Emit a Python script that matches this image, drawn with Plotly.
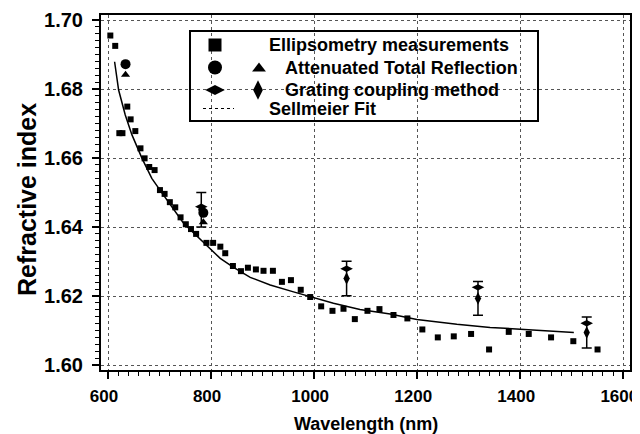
import plotly.graph_objects as go

# ---- data ----
ell_x = [604.5, 614, 622, 628, 637.4, 643.9, 653, 663, 671, 680, 690.4, 700.8, 709.8, 720,
         730.5, 740.8, 751, 761, 771, 791, 804, 818, 827.5, 842.4, 858, 871.5, 887, 901.8,
         920, 937.5, 955, 974, 992.4, 1013.7, 1035.6, 1057, 1079, 1103.5, 1126.8, 1154,
         1181, 1210, 1240, 1271, 1304.6, 1339.5, 1377.7, 1416.5, 1459.8, 1503, 1550]
ell_y = [1.6955, 1.6925, 1.6672, 1.6672, 1.6749, 1.6712, 1.6678, 1.6628, 1.6599, 1.6574,
         1.6565, 1.6507, 1.6496, 1.6472, 1.6457, 1.6428, 1.6408, 1.6394, 1.6380, 1.6354,
         1.6354, 1.6343, 1.6324, 1.6287, 1.6272, 1.6282, 1.6277, 1.6273, 1.6273, 1.6241,
         1.6246, 1.6218, 1.6197, 1.6170, 1.6157, 1.6163, 1.6133, 1.6157, 1.6162, 1.6145,
         1.6135, 1.6103, 1.6080, 1.6083, 1.6090, 1.6045, 1.6096, 1.6090, 1.6080, 1.6069,
         1.6045]

atr_circle_x = [634, 785]
atr_circle_y = [1.6872, 1.6441]
atr_tri_x = [634, 785]
atr_tri_y = [1.6841, 1.6414]

gc_wide_x = [781, 1063, 1318, 1529]
gc_wide_y = [1.6459, 1.6279, 1.6225, 1.6121]
gc_tall_x = [781, 1063, 1318, 1529]
gc_tall_y = [1.6450, 1.6251, 1.6193, 1.6094]
gc_err = [0.005, 0.005, 0.0049, 0.0045]

fit_x = [612.8, 620.6, 633.5, 646.5, 666, 685, 705, 730.5, 746.6, 817.8, 843.6, 876,
         914.8, 960, 992.4, 1037.5, 1089, 1147.5, 1199.3, 1277, 1341.5, 1398.3, 1451.5, 1504]
fit_y = [1.6879, 1.6797, 1.67246, 1.6667, 1.6599, 1.6541, 1.6498, 1.6444, 1.6411, 1.6309,
         1.6283, 1.6254, 1.6232, 1.6212, 1.6198, 1.6179, 1.6161, 1.6148, 1.6132, 1.6118,
         1.6109, 1.6103, 1.6099, 1.6094]

legend_labels = ["Ellipsometry measurements", "Attenuated Total Reflection",
                 "Grating coupling method", "Sellmeier Fit"]

x_title = "Wavelength (nm)"
y_title = "Refractive index"

# ---- figure ----
FONT = "Liberation Sans, Arial, Helvetica, sans-serif"
OFF = 8                      # page body margin of the browser
W, H = 640, 434 - OFF
L, R, T, B = 101 - OFF, 10 + OFF, 15 - OFF, 64
pw, ph = W - L - R, H - T - B
XR = [586.4, 1613]
YR = [1.59855, 1.70145]


def px2paper(px, py):
    # screen pixel -> paper fraction
    return (px - OFF - L) / pw, (H - B - (py - OFF)) / ph


def px2data(px, py):
    fx, fy = px2paper(px, py)
    return XR[0] + fx * (XR[1] - XR[0]), YR[0] + fy * (YR[1] - YR[0])


fig = go.Figure()

fig.add_trace(go.Scatter(x=fit_x, y=fit_y, mode="lines",
                         line=dict(color="black", width=1.5), showlegend=False))
fig.add_trace(go.Scatter(x=ell_x, y=ell_y, mode="markers",
                         marker=dict(symbol="square", size=6, color="black"), showlegend=False))
fig.add_trace(go.Scatter(x=gc_tall_x, y=gc_tall_y, mode="markers",
                         marker=dict(symbol="diamond-tall", size=9, color="black"),
                         error_y=dict(type="data", array=gc_err, visible=True,
                                      color="black", thickness=1.5, width=5),
                         showlegend=False))
fig.add_trace(go.Scatter(x=gc_wide_x, y=gc_wide_y, mode="markers",
                         marker=dict(symbol="diamond-wide", size=9, color="black"),
                         showlegend=False))
fig.add_trace(go.Scatter(x=atr_circle_x, y=atr_circle_y, mode="markers",
                         marker=dict(symbol="circle", size=10, color="black"), showlegend=False))
fig.add_trace(go.Scatter(x=atr_tri_x, y=atr_tri_y, mode="markers",
                         marker=dict(symbol="triangle-up", size=8, color="black"),
                         showlegend=False))

# ---- hand-built legend ----
box = [190, 31, 538, 121]
x0, y0 = px2paper(box[0], box[3])
x1, y1 = px2paper(box[2], box[1])
fig.add_shape(type="rect", xref="paper", yref="paper", x0=x0, y0=y0, x1=x1, y1=y1,
              line=dict(color="black", width=2), fillcolor="white", layer="between")

leg_sym = [("square", 215, 45, 13), ("circle", 215, 67.5, 14), ("triangle-up", 259, 68.5, 12),
           ("diamond-wide", 215, 90, 14), ("diamond-tall", 258, 90, 14)]
for sym, sx, sy, ss in leg_sym:
    dx, dy = px2data(sx, sy)
    fig.add_trace(go.Scatter(x=[dx], y=[dy], mode="markers",
                             marker=dict(symbol=sym, size=ss, color="black"),
                             showlegend=False, hoverinfo="skip"))
lx0, ly = px2data(203, 108.5)
lx1, _ = px2data(234, 108.5)
fig.add_trace(go.Scatter(x=[lx0, lx1], y=[ly, ly], mode="lines",
                         line=dict(color="black", width=1.2, dash="dot"),
                         showlegend=False, hoverinfo="skip"))

text_pos = [(267, 45), (283, 67.5), (283, 90), (267, 109)]
for lab, (tx, ty) in zip(legend_labels, text_pos):
    ax_, ay_ = px2paper(tx, ty)
    fig.add_annotation(x=ax_, y=ay_, xref="paper", yref="paper", text=lab, showarrow=False,
                       xanchor="left", yanchor="middle",
                       font=dict(family=FONT, size=18, color="black", weight="bold"))

# axis titles
tx_, ty_ = px2paper(366, 424)
fig.add_annotation(x=tx_, y=ty_, xref="paper", yref="paper", text=x_title, showarrow=False,
                   xanchor="center", yanchor="middle",
                   font=dict(family=FONT, size=18, color="black", weight="bold"))
tx_, ty_ = px2paper(27, 200)
fig.add_annotation(x=tx_, y=ty_, xref="paper", yref="paper", text=y_title, showarrow=False,
                   xanchor="center", yanchor="middle", textangle=-90,
                   font=dict(family=FONT, size=25, color="black", weight="bold"))

grid = dict(showgrid=True, gridcolor="#555555", griddash="dot", gridwidth=1)
fig.update_layout(
    width=W, height=H, margin=dict(l=L, r=R, t=T, b=B, autoexpand=False),
    paper_bgcolor="white", plot_bgcolor="white", showlegend=False,
    xaxis=dict(range=XR, tick0=600, dtick=200, ticks="outside", ticklen=7,
               tickwidth=1.5, tickcolor="black", showline=True, linecolor="black", linewidth=2,
               mirror=True, zeroline=False, automargin=False, ticklabeloverflow="allow",
               ticklabelstandoff=3, ticklabelshift=-4,
               tickfont=dict(family=FONT, size=17, color="black", weight="bold"),
               minor=dict(dtick=20, ticks="outside", ticklen=4, tickcolor="black",
                          tickwidth=1),
               **grid),
    yaxis=dict(range=YR, tick0=1.6, dtick=0.02, tickformat=".2f",
               ticks="outside", ticklen=7, tickwidth=1.5, tickcolor="black",
               showline=True, linecolor="black", linewidth=2, mirror=True, zeroline=False,
               automargin=False, ticklabeloverflow="allow", ticklabelstandoff=5,
               tickfont=dict(family=FONT, size=20, color="black", weight="bold"),
               minor=dict(dtick=0.002, ticks="outside", ticklen=4, tickcolor="black",
                          tickwidth=1),
               **grid),
)

fig.write_html("out.html")
